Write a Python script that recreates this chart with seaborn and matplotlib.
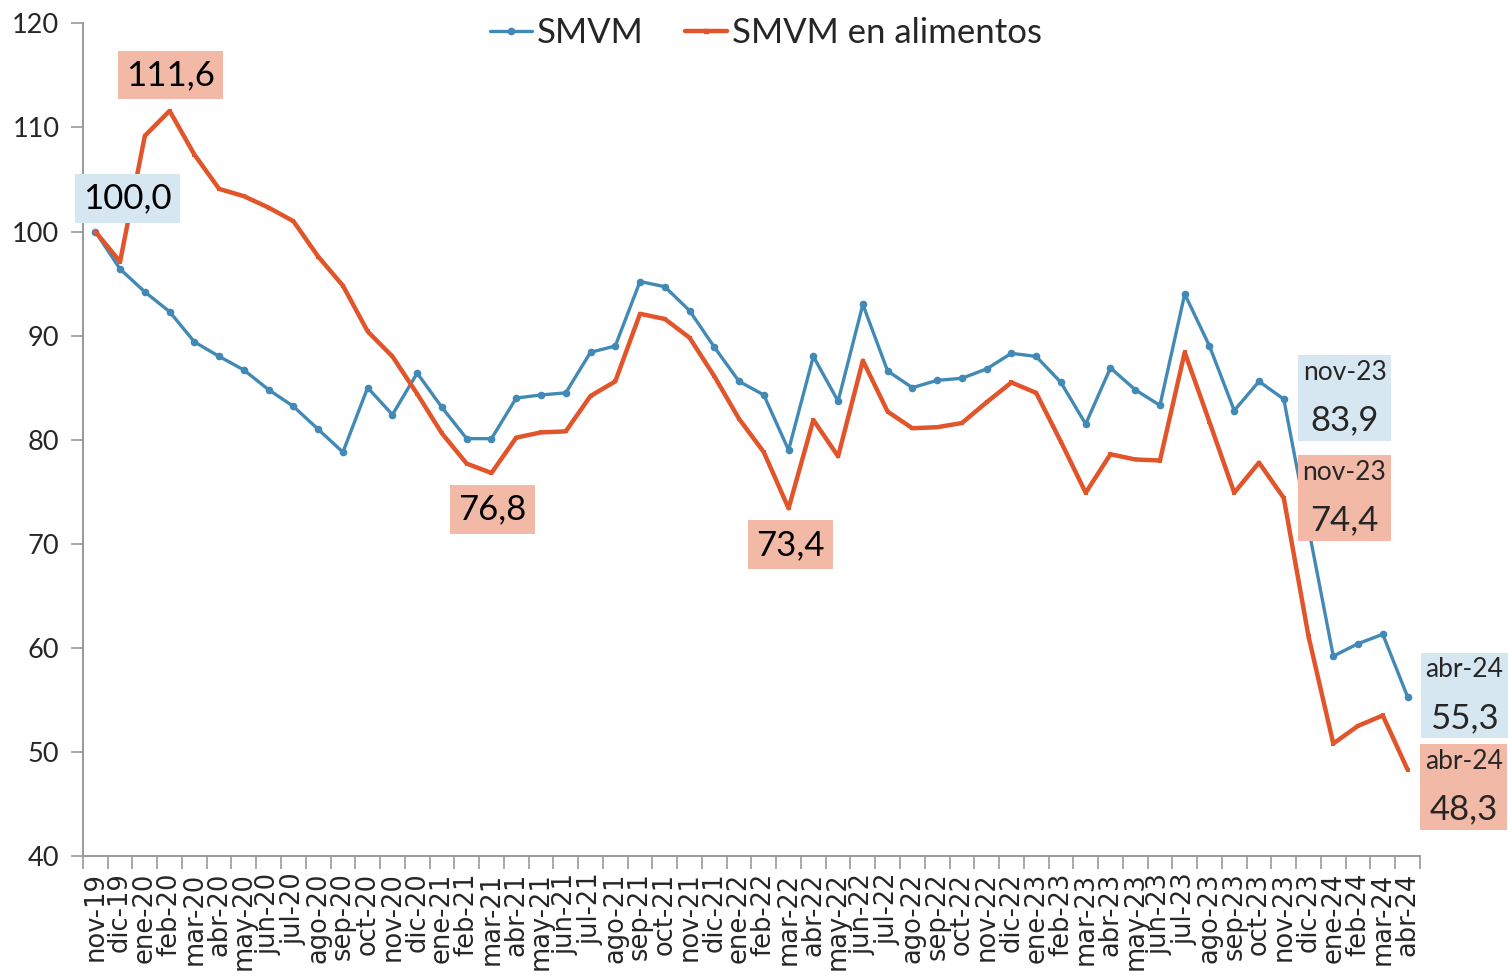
import numpy as np
import pandas as pd
import seaborn as sns
import matplotlib.pyplot as plt
from matplotlib.lines import Line2D
from matplotlib.ticker import FixedLocator
from matplotlib.offsetbox import TextArea, VPacker, AnnotationBbox


meses = ['nov-19', 'dic-19',
         'ene-20', 'feb-20', 'mar-20', 'abr-20', 'may-20', 'jun-20',
         'jul-20', 'ago-20', 'sep-20', 'oct-20', 'nov-20', 'dic-20',
         'ene-21', 'feb-21', 'mar-21', 'abr-21', 'may-21', 'jun-21',
         'jul-21', 'ago-21', 'sep-21', 'oct-21', 'nov-21', 'dic-21',
         'ene-22', 'feb-22', 'mar-22', 'abr-22', 'may-22', 'jun-22',
         'jul-22', 'ago-22', 'sep-22', 'oct-22', 'nov-22', 'dic-22',
         'ene-23', 'feb-23', 'mar-23', 'abr-23', 'may-23', 'jun-23',
         'jul-23', 'ago-23', 'sep-23', 'oct-23', 'nov-23', 'dic-23',
         'ene-24', 'feb-24', 'mar-24', 'abr-24']

smvm = [100.0, 96.4, 94.2, 92.3, 89.4, 88.0, 86.7, 84.8, 83.2, 81.0,
        78.8, 85.0, 82.4, 86.4, 83.1, 80.1, 80.1, 84.0, 84.3, 84.5,
        88.4, 89.0, 95.2, 94.7, 92.4, 88.9, 85.6, 84.3, 79.0, 88.0,
        83.7, 93.0, 86.6, 85.0, 85.7, 85.9, 86.8, 88.3, 88.0, 85.5,
        81.5, 86.9, 84.8, 83.3, 94.0, 89.0, 82.8, 85.6, 83.9, 71.5,
        59.2, 60.4, 61.3, 55.3]

smvm_alim = [100.0, 97.1, 109.2, 111.6, 107.4, 104.1, 103.4, 102.3, 101.0, 97.6,
             94.8, 90.4, 88.0, 84.4, 80.6, 77.7, 76.8, 80.2, 80.7, 80.8,
             84.2, 85.6, 92.1, 91.6, 89.8, 86.1, 82.0, 78.8, 73.4, 81.9,
             78.4, 87.6, 82.7, 81.1, 81.2, 81.6, 83.6, 85.5, 84.5, 79.8,
             74.9, 78.6, 78.1, 78.0, 88.4, 81.7, 74.9, 77.8, 74.4, 61.1,
             50.8, 52.5, 53.5, 48.3]

AZUL = '#4289B5'
NARANJA = '#E2542A'
CAJA_AZUL = '#D7E7F1'
CAJA_NARANJA = '#F2B9A7'

# (serie, indice, desplazamiento x, desplazamiento y)
etiquetas_simples = [('smvm', 0, 1.3, 3.2),
                     ('alim', 3, 0.03, 3.45),
                     ('alim', 16, 0.05, -3.5),
                     ('alim', 28, 0.07, -3.5)]
etiquetas_dobles = [('smvm', 48, 2.47, 0.1),
                    ('alim', 48, 2.45, 0.0),
                    ('smvm', 53, 2.3, 0.1),
                    ('alim', 53, 2.27, -1.7)]


def fmt(v):
    return f'{v:.1f}'.replace('.', ',')


def plot():
    sns.set_theme(style='white')
    plt.rcParams['font.family'] = ['Lato', 'DejaVu Sans']

    df = pd.DataFrame({'idx': np.arange(len(meses)), 'mes': meses,
                       'smvm': smvm, 'alim': smvm_alim})

    fig = plt.figure(figsize=(15.08, 9.76), dpi=100)
    ax = fig.add_axes([0.055, 0.123, 0.8866, 0.853])

    sns.lineplot(data=df, x='idx', y='smvm', ax=ax, color=AZUL, lw=2.4,
                 marker='o', markersize=5.5, markeredgewidth=0)
    sns.lineplot(data=df, x='idx', y='alim', ax=ax, color=NARANJA, lw=3.2,
                 marker='s', markersize=3.5, markeredgewidth=0)

    ax.set_xlim(-0.5, len(meses) - 0.5)
    ax.set_ylim(40, 120)
    ax.set_yticks(range(40, 121, 10))
    ax.set_xticks(df.idx)
    ax.set_xticklabels(meses, rotation=90, fontsize=18.5, family='DejaVu Sans')
    ax.xaxis.set_minor_locator(FixedLocator(np.arange(-0.5, len(meses), 1)))
    ax.tick_params(axis='x', which='major', length=0, pad=12)
    ax.tick_params(axis='x', which='minor', length=9, width=1.2,
                   color='#999999', bottom=True)
    ax.tick_params(axis='y', length=9, width=1.2, color='#999999',
                   labelsize=19.5, left=True, pad=8)
    ax.set_xlabel('')
    ax.set_ylabel('')
    for side in ['top', 'right']:
        ax.spines[side].set_visible(False)
    for side in ['left', 'bottom']:
        ax.spines[side].set_color('#999999')
        ax.spines[side].set_linewidth(1.4)

    series = {'smvm': smvm, 'alim': smvm_alim}
    cajas = {'smvm': CAJA_AZUL, 'alim': CAJA_NARANJA}

    for s, i, dx, dy in etiquetas_simples:
        ax.annotate(fmt(series[s][i]), xy=(i, series[s][i]),
                    xytext=(i + dx, series[s][i] + dy), textcoords='data',
                    ha='center', va='center', fontsize=25, color='black',
                    bbox=dict(boxstyle='square,pad=0.24', fc=cajas[s], ec='none'),
                    annotation_clip=False)

    for s, i, dx, dy in etiquetas_dobles:
        caja = VPacker(children=[TextArea(meses[i], textprops=dict(fontsize=19)),
                                 TextArea(fmt(series[s][i]), textprops=dict(fontsize=25))],
                       align='center', pad=0, sep=14)
        ab = AnnotationBbox(caja, (i, series[s][i]),
                            xybox=(i + dx, series[s][i] + dy), boxcoords='data',
                            box_alignment=(0.5, 0.5), frameon=True, pad=0.5,
                            bboxprops=dict(boxstyle='square', fc=cajas[s], ec='none'),
                            annotation_clip=False)
        ax.add_artist(ab)

    handles = [Line2D([], [], color=AZUL, lw=2.4, marker='o', markersize=4.5),
               Line2D([], [], color=NARANJA, lw=3.2, marker='s', markersize=2.5)]
    ax.legend(handles, ['SMVM', 'SMVM en alimentos'], loc='upper center',
              bbox_to_anchor=(0.511, 1.045), ncol=2, frameon=False, fontsize=25,
              handlelength=1.2, handletextpad=0.15, columnspacing=1.2)

    fig.savefig('out.png', dpi=100)


if __name__ == "__main__":
    plot()
